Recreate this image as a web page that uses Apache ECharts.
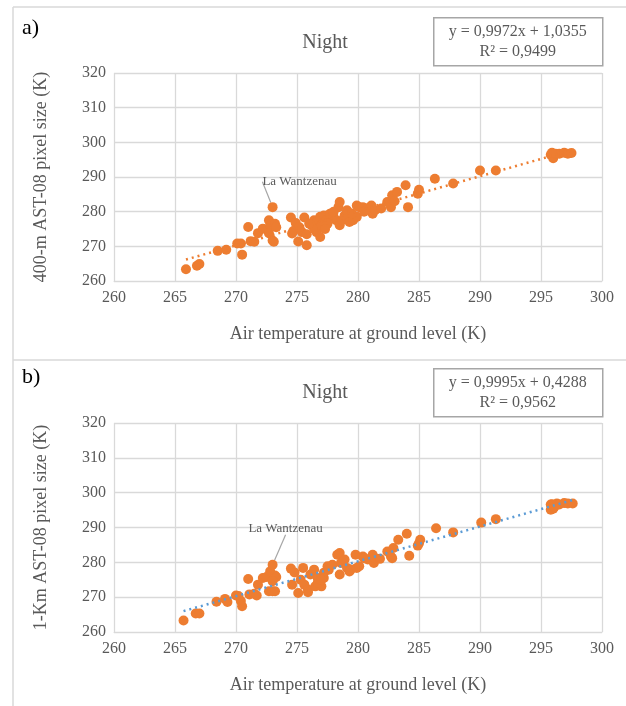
<!DOCTYPE html>
<html>
<head>
<meta charset="utf-8">
<script src="https://cdn.jsdelivr.net/npm/echarts@6/dist/echarts.min.js"></script>
<style>
  html, body { margin: 0; padding: 0; background: #fff; }
  #main { width: 626px; height: 706px; }
</style>
</head>
<body>
<div id="main"></div>
<script>
// panel a) 400-m pixel
var airA = [265.9, 266.8, 267.0, 268.5, 269.2, 270.1, 270.4, 270.5, 271.0, 271.2, 271.5, 271.8, 272.2, 272.7, 272.8, 273.2,
    272.7, 273.0, 273.1, 274.5, 274.9, 274.7, 274.6, 275.1, 275.6, 275.8, 275.4, 275.8, 276.2, 276.4, 276.6, 276.9,
    277.2, 277.4, 276.6, 276.9, 276.4, 277.7, 278.0, 278.2, 278.4, 278.5, 278.5, 278.7, 278.9, 279.1, 279.3, 279.6,
    279.9, 279.9, 280.1, 280.4, 280.7, 281.1, 281.2, 281.4, 281.9, 282.4, 282.7, 282.8, 283.2, 283.9, 284.1, 284.9,
    285.0, 286.3, 287.8, 290.0, 291.3, 295.8, 296.0, 296.2, 296.5, 296.9, 297.2, 297.5, 295.9,
    277.0, 277.5, 278.0, 276.0, 277.3, 275.2, 279.5, 280.5, 283.0, 273.3];
var pixA = [263.4, 264.4, 264.9, 268.7, 269.0, 270.8, 270.8, 267.6, 275.6, 271.5, 271.3, 273.8, 275.1, 277.5, 276.1, 276.5,
    273.8, 271.7, 271.3, 278.3, 276.7, 274.4, 273.7, 271.4, 278.3, 270.3, 274.1, 273.5, 276.1, 277.5, 277.0, 278.5,
    278.9, 277.5, 274.1, 272.7, 275.1, 279.4, 278.5, 277.5, 281.3, 282.8, 276.1, 277.5, 278.9, 280.4, 277.0, 277.5,
    278.5, 281.8, 281.3, 281.3, 280.9, 281.8, 279.4, 280.4, 280.9, 282.8, 281.3, 284.7, 285.7, 287.6, 281.3, 285.2,
    286.3, 289.5, 288.1, 291.9, 291.9, 296.4, 295.4, 296.7, 296.7, 297.0, 296.7, 296.9, 297.0,
    276.0, 276.5, 280.0, 276.5, 275.0, 275.5, 279.5, 280.0, 283.0, 275.5];
var wantzA = [273.0, 281.3];
var slopeA = 0.9972, interceptA = 1.0355;

// panel b) 1-km pixel
var airB = [265.7, 266.7, 267.0, 268.4, 269.1, 269.3, 270.0, 270.2, 270.4, 270.5, 271.0, 271.1, 271.5, 271.7, 271.8, 272.2,
    272.5, 272.8, 273.2, 273.3, 273.0, 272.7, 273.0, 273.2, 274.5, 274.8, 274.6, 275.1, 275.3, 275.6, 275.9, 275.5,
    275.9, 276.1, 276.4, 276.7, 277.0, 276.5, 276.7, 277.2, 277.5, 277.6, 277.9, 277.2, 277.0, 278.3, 278.5, 278.6,
    278.5, 278.9, 279.1, 279.3, 279.4, 279.8, 279.9, 280.1, 280.4, 280.8, 280.5, 281.2, 281.3, 281.4, 281.8, 282.4,
    282.7, 282.8, 282.9, 283.3, 284.0, 284.2, 284.9, 285.1, 285.0, 286.4, 287.8, 290.1, 291.3,
    295.8, 296.0, 295.8, 296.3, 296.5, 296.9, 297.2, 297.6, 295.9, 296.1];
var pixB = [263.3, 265.3, 265.3, 268.7, 269.5, 268.6, 270.5, 270.3, 268.9, 267.4, 275.2, 270.8, 271.0, 270.5, 273.6, 275.5,
    275.8, 277.4, 276.2, 275.8, 274.6, 271.7, 271.7, 271.7, 278.2, 277.1, 273.6, 271.2, 275.0, 273.6, 272.2, 278.4,
    271.4, 276.5, 277.9, 275.5, 273.1, 273.1, 274.1, 277.0, 278.9, 277.9, 279.3, 275.5, 275.0, 282.2, 282.7, 279.8,
    276.5, 280.8, 278.4, 277.4, 277.9, 282.2, 278.4, 278.9, 281.7, 280.8, 281.2, 282.2, 279.8, 281.2, 281.0, 283.1,
    281.7, 281.2, 284.1, 286.5, 288.2, 281.9, 284.8, 286.5, 285.5, 289.8, 288.6, 291.4, 292.4,
    296.6, 295.4, 295.1, 296.9, 296.6, 297.0, 296.9, 296.9, 296.7, 295.9];
var wantzB = [273.0, 279.3];
var slopeB = 0.9995, interceptB = 0.4288;

var xTicks = {min: 260, max: 300, interval: 5};
var yTicks = {min: 260, max: 320, interval: 10};

var ORANGE = '#ed7d31';
var BLUE = '#5b9bd5';
var GRID = '#d9d9d9';
var TXT = '#595959';
var FONT = '"Liberation Serif", "DejaVu Serif", serif';

function pairs(xs, ys) {
    return xs.map(function(x, i) { return [x, ys[i]]; });
}
function trend(xs, a, b) {
    var lo = Math.min.apply(null, xs), hi = Math.max.apply(null, xs);
    return [[lo, a * lo + b], [hi, a * hi + b]];
}

var myChart = echarts.init(document.getElementById('main'));

function xAxisFor(idx) {
    return {
        gridIndex: idx, type: 'value',
        min: xTicks.min, max: xTicks.max, interval: xTicks.interval,
        name: 'Air temperature at ground level (K)',
        nameLocation: 'middle', nameGap: 44,
        nameTextStyle: {color: TXT, fontFamily: FONT, fontSize: 18},
        axisLine: {show: true, lineStyle: {color: GRID}},
        axisTick: {show: false},
        axisLabel: {color: TXT, fontFamily: FONT, fontSize: 16, margin: 9},
        splitLine: {show: true, lineStyle: {color: GRID, width: 1.3}}
    };
}
function yAxisFor(idx, name) {
    return {
        gridIndex: idx, type: 'value',
        min: yTicks.min, max: yTicks.max, interval: yTicks.interval,
        name: name,
        nameLocation: 'middle', nameGap: 64,
        nameTextStyle: {color: TXT, fontFamily: FONT, fontSize: 18},
        axisLine: {show: false},
        axisTick: {show: false},
        axisLabel: {color: TXT, fontFamily: FONT, fontSize: 16, margin: 8},
        splitLine: {show: true, lineStyle: {color: GRID, width: 1.3}}
    };
}
function scatterFor(idx, data) {
    return {
        type: 'scatter', xAxisIndex: idx, yAxisIndex: idx,
        symbolSize: 10, data: data,
        itemStyle: {color: ORANGE, opacity: 1}
    };
}
function annotFor(idx, pt, dx, dy) {
    return {
        type: 'scatter', xAxisIndex: idx, yAxisIndex: idx,
        symbolSize: 10, data: [pt],
        itemStyle: {color: ORANGE, opacity: 1},
        label: {
            show: true, position: 'top', distance: 2,
            formatter: 'La Wantzenau',
            color: TXT, fontFamily: FONT, fontSize: 13
        },
        labelLayout: {dx: dx, dy: dy},
        labelLine: {show: true, lineStyle: {color: '#a6a6a6', width: 1.2}}
    };
}
function trendFor(idx, data, color) {
    return {
        type: 'line', xAxisIndex: idx, yAxisIndex: idx,
        data: data, symbol: 'none', z: 5,
        lineStyle: {color: color, width: 2.5, type: [2, 4]}
    };
}
function eqBox(top, a, b, r2) {
    return {
        type: 'group', left: 433, top: top,
        children: [
            {type: 'rect', shape: {x: 0, y: 0, width: 169, height: 48},
                style: {fill: '#fff', stroke: '#a6a6a6', lineWidth: 1.5}},
            {type: 'text', x: 84, y: 6,
                style: {text: 'y = ' + a + 'x + ' + b, fill: TXT, font: '16px ' + FONT, textAlign: 'center'}},
            {type: 'text', x: 84, y: 26,
                style: {text: 'R² = ' + r2, fill: TXT, font: '16px ' + FONT, textAlign: 'center'}}
        ]
    };
}
function fmt(v) { return String(v).replace('.', ','); }

var option = {
    animation: false,
    backgroundColor: '#fff',
    grid: [
        {left: 114, top: 73, width: 488, height: 208},
        {left: 114, top: 423, width: 488, height: 209}
    ],
    xAxis: [xAxisFor(0), xAxisFor(1)],
    yAxis: [yAxisFor(0, '400-m AST-08 pixel size (K)'), yAxisFor(1, '1-Km AST-08 pixel size (K)')],
    series: [
        scatterFor(0, pairs(airA, pixA)),
        annotFor(0, wantzA, 27, -12),
        trendFor(0, trend(airA, slopeA, interceptA), ORANGE),
        scatterFor(1, pairs(airB, pixB)),
        annotFor(1, wantzB, 13, -23),
        trendFor(1, trend(airB, slopeB, interceptB), BLUE)
    ],
    graphic: [
        // panel frames
        {type: 'line', shape: {x1: 13, y1: 7, x2: 626, y2: 7}, style: {stroke: GRID, lineWidth: 1.5}},
        {type: 'line', shape: {x1: 13, y1: 360, x2: 626, y2: 360}, style: {stroke: GRID, lineWidth: 1.5}},
        {type: 'line', shape: {x1: 13, y1: 7, x2: 13, y2: 706}, style: {stroke: GRID, lineWidth: 1.5}},
        {type: 'text', left: 22, top: 17, style: {text: 'a)', fill: '#000', font: '22px ' + FONT}},
        {type: 'text', left: 22, top: 366, style: {text: 'b)', fill: '#000', font: '22px ' + FONT}},
        {type: 'text', x: 325, y: 33, style: {text: 'Night', fill: TXT, font: '20px ' + FONT, textAlign: 'center'}},
        {type: 'text', x: 325, y: 383, style: {text: 'Night', fill: TXT, font: '20px ' + FONT, textAlign: 'center'}},
        eqBox(17, fmt(slopeA), fmt(interceptA), '0,9499'),
        eqBox(368, fmt(slopeB), fmt(interceptB), '0,9562')
    ]
};

myChart.setOption(option);
</script>
</body>
</html>
